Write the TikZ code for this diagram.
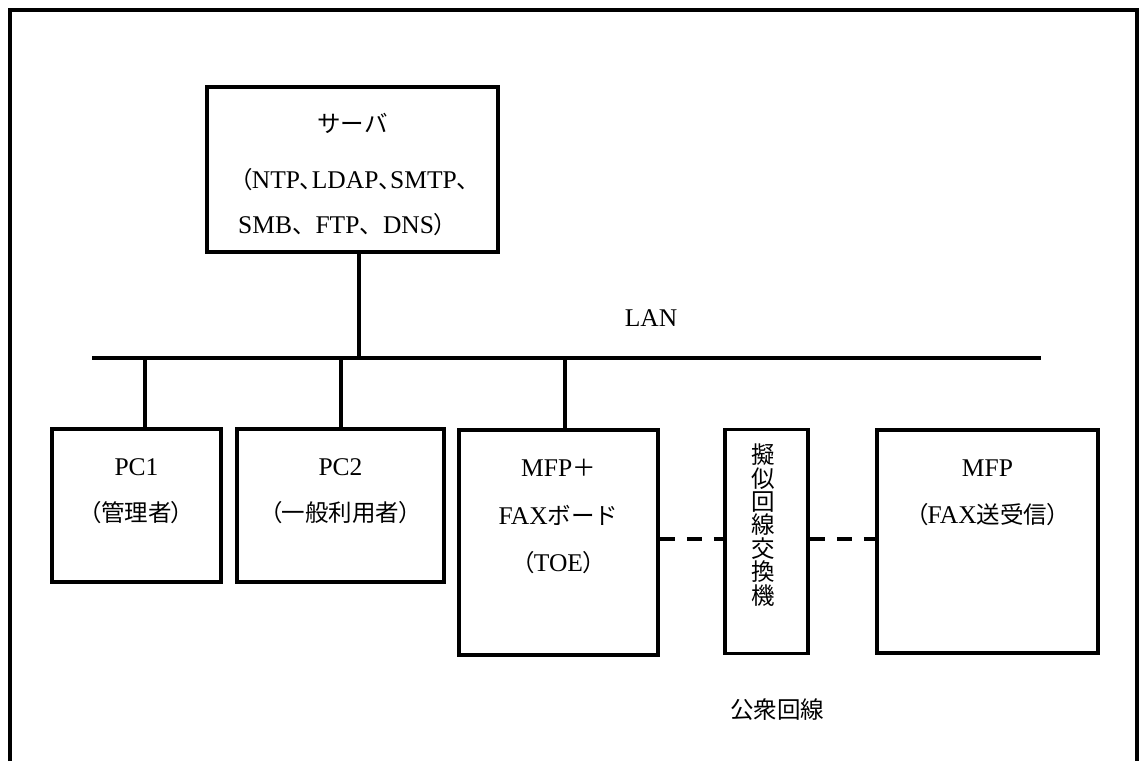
\documentclass[tikz,border=0pt]{standalone}
\usepackage{fontspec}
\setmainfont{Liberation Serif}
\newfontfamily\cjk{Noto Sans CJK JP}
\newfontfamily\cjkp[RawFeature=+palt]{Noto Sans CJK JP}
\newcommand\cj[1]{{\fontsize{23.5pt}{28pt}\selectfont\cjk #1}}
\newcommand\cjp[1]{{\fontsize{23.5pt}{28pt}\selectfont\cjkp #1}}
\begin{document}
\begin{tikzpicture}[x=1pt,y=-1pt,
  frameline/.style={line width=4pt},
  box/.style={draw,line width=3.8pt,inner sep=0pt},
  wire/.style={line width=3.6pt},
  dashwire/.style={line width=3.6pt,dash pattern=on 15pt off 12pt},
  txt/.style={inner sep=0pt,font=\fontsize{25.5pt}{30pt}\selectfont}]
\useasboundingbox (0,0) rectangle (1141,761);
% outer frame (open at the bottom)
\draw[frameline] (10,761) -- (10,10) -- (1137,10) -- (1137,761);

% boxes
\node[box,minimum width=291pt,minimum height=165pt] (server) at (352.5,169.5) {};
\node[box,minimum width=169pt,minimum height=153pt] (pc1) at (136.5,505.5) {};
\node[box,minimum width=207pt,minimum height=153pt] (pc2) at (340.5,505.5) {};
\node[box,minimum width=199pt,minimum height=225pt] (mfpfax) at (558.5,542.5) {};
\node[box,minimum width=83pt,minimum height=224pt] (sw) at (766.5,541.5) {};
\node[box,minimum width=221pt,minimum height=223pt] (mfp) at (987.5,541.5) {};

% texts
\node[txt] (srvt1) at (352.5,123) {\cj{サーバ}};
\node[txt,anchor=west] (srvt2) at (240,180) {\cjp{（}NTP\cjp{、}LDAP\cjp{、}SMTP\cjp{、}};
\node[txt,anchor=west] (srvt3) at (238,225) {SMB\cj{、}FTP\cj{、}DNS\cjp{）}};
\node[txt] (pc1t1) at (136.5,467) {PC1};
\node[txt] (pc1t2) at (136.5,513) {\cjp{（管理者）}};
\node[txt] (pc2t1) at (340.5,467) {PC2};
\node[txt] (pc2t2) at (340.5,513) {\cjp{（一般利用者）}};
\node[txt] (mft1) at (558.5,468) {MFP\cj{＋}};
\node[txt] (mft2) at (558.5,515) {FAX\cj{ボード}};
\node[txt] (mft3) at (558.5,563) {\cjp{（}TOE\cjp{）}};
\node[txt,align=center,font=\fontsize{23.5pt}{23.4pt}\selectfont\cjk] (swt) at (763,525) {擬\\似\\回\\線\\交\\換\\機};
\node[txt] (mfpt1) at (987.5,468) {MFP};
\node[txt] (mfpt2) at (987.5,515) {\cjp{（}FAX\cjp{送受信）}};
\node[txt] (lant) at (651,318) {LAN};
\node[txt] (pubt) at (777,710) {\cj{公衆回線}};

% LAN bus
\coordinate (lanL) at (92,358);
\coordinate (lanR) at (1041,358);
\coordinate (tapS) at (359,358);
\coordinate (tap1) at (145,358);
\coordinate (tap2) at (341,358);
\coordinate (tap3) at (565,358);
\draw[wire] (lanL) -- (lanR);
\draw[wire] (server.south -| tapS) -- (tapS);
\draw[wire] (tap1) -- (pc1.north -| tap1);
\draw[wire] (tap2) -- (pc2.north -| tap2);
\draw[wire] (tap3) -- (mfpfax.north -| tap3);

% public line (dashed)
\coordinate (dl) at (0,539);
\draw[dashwire] (mfpfax.east |- dl) -- (sw.west |- dl);
\draw[dashwire] (sw.east |- dl) -- (mfp.west |- dl);
\end{tikzpicture}
\end{document}
